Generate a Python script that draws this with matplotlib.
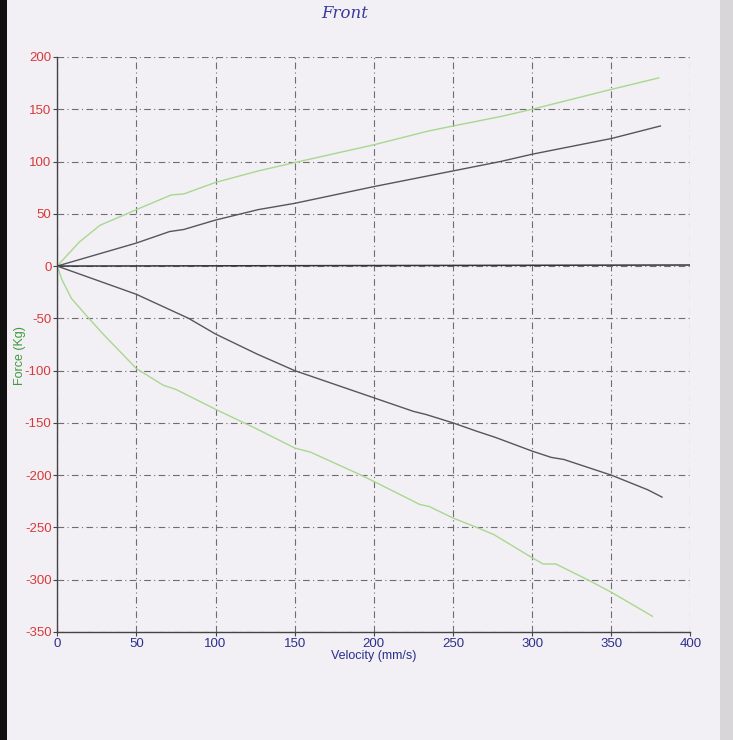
import matplotlib
matplotlib.use('Agg')
import matplotlib.pyplot as plt
from matplotlib.patches import Rectangle

plt.rcParams['font.family'] = ['Liberation Sans', 'DejaVu Sans']
plt.rcParams['axes.unicode_minus'] = False

# values (velocity mm/s, force kg)
rebound_hi_x = [0, 14, 27, 44, 50, 72, 80, 100, 127, 150, 200, 234, 250, 280, 300, 350, 380]
rebound_hi_y = [0, 23, 39, 50, 54, 68, 69, 80, 91, 99, 116, 129, 134, 143, 150, 169, 180]

rebound_lo_x = [0, 50, 71, 80, 100, 127, 150, 200, 250, 280, 300, 350, 381]
rebound_lo_y = [0, 22, 33, 35, 44, 54, 60, 76, 91, 100, 107, 122, 134]

zero_x = [0, 400]
zero_y = [0, 1]

comp_lo_x = [0, 50, 83, 100, 126, 150, 200, 225, 233, 250, 265, 277, 300, 312, 320, 350, 373, 382]
comp_lo_y = [0, -27, -50, -65, -84, -100, -126, -139, -142, -150, -158, -164, -177, -183, -185, -200, -214, -221]

comp_hi_x = [0, 3, 9, 20, 29, 50, 67, 75, 100, 125, 150, 160, 192, 200, 229, 235, 250, 265,
             276, 300, 307, 315, 335, 350, 376]
comp_hi_y = [0, -13, -31, -50, -65, -98, -114, -118, -137, -155, -174, -178, -200, -206, -228, -230,
             -241, -250, -257, -279, -285, -285, -300, -312, -335]

x_ticks = [0, 50, 100, 150, 200, 250, 300, 350, 400]
y_ticks = [200, 150, 100, 50, 0, -50, -100, -150, -200, -250, -300, -350]

paper = '#f2f0f4'
green = '#a8d890'
dark = '#55555f'
red = '#d8393a'
blue = '#2b2f8c'

figure = plt.figure(figsize=(7.33, 7.4), dpi=100, facecolor=paper)
# scanner edges
figure.patches.append(Rectangle((0, 0), 0.010, 1, transform=figure.transFigure,
                                facecolor='#111111', edgecolor='none', zorder=0))
figure.patches.append(Rectangle((0.982, 0), 0.018, 1, transform=figure.transFigure,
                                facecolor='#d8d6d8', edgecolor='none', zorder=0))

axes = figure.add_axes([0.078, 0.146, 0.864, 0.777])
axes.set_facecolor(paper)

axes.plot(rebound_hi_x, rebound_hi_y, color=green, lw=1.0)
axes.plot(rebound_lo_x, rebound_lo_y, color=dark, lw=1.0)
axes.plot(zero_x, zero_y, color='#333338', lw=1.1)
axes.plot(comp_lo_x, comp_lo_y, color=dark, lw=1.0)
axes.plot(comp_hi_x, comp_hi_y, color=green, lw=1.0)

axes.set_xlim(0, 400)
axes.set_ylim(-350, 200)
axes.set_xticks(x_ticks)
axes.set_yticks(y_ticks)
axes.grid(True, linestyle=(0, (6, 3, 1, 3)), color='#6e6e72', lw=0.8)
axes.set_axisbelow(True)
for side in ('top', 'right'):
    axes.spines[side].set_visible(False)
for side in ('left', 'bottom'):
    axes.spines[side].set_color('#444448')
    axes.spines[side].set_linewidth(1.0)

axes.tick_params(axis='y', colors='#444448', labelcolor=red, labelsize=9.5, length=3, pad=1)
axes.tick_params(axis='x', colors='#444448', labelcolor=blue, labelsize=9.5, length=3, pad=1)

axes.set_xlabel('Velocity (mm/s)', color=blue, fontsize=9, labelpad=0)
axes.set_ylabel('Force (Kg)', color='#3f9a3c', fontsize=9)
axes.yaxis.set_label_coords(-0.05, 0.48)

figure.text(0.47, 0.982, 'Front', color='#3a3a9a', fontsize=12, style='italic',
            family='DejaVu Serif', ha='center', va='center')

figure.savefig('out.png', dpi=100, facecolor=paper)
